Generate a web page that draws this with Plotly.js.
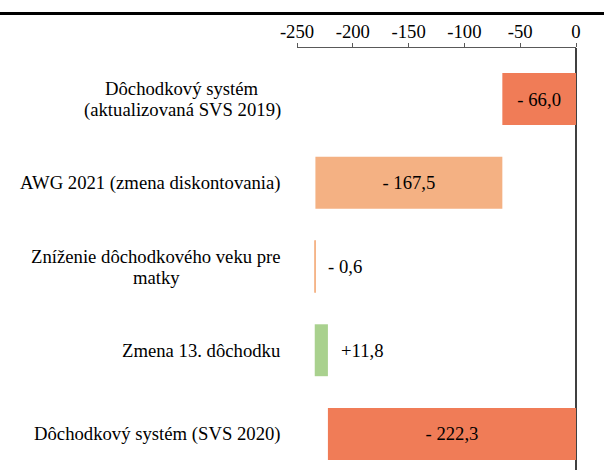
<!DOCTYPE html>
<html>
<head>
<meta charset="utf-8">
<script src="https://cdn.plot.ly/plotly-3.0.1.min.js"></script>
<style>html,body{margin:0;padding:0;background:#fff;}#chart{width:604px;height:470px;}</style>
</head>
<body>
<div id="chart"></div>
<script>
var categories = [
  "Dôchodkový systém<br>(aktualizovaná SVS 2019)",
  "AWG 2021 (zmena diskontovania)",
  "Zníženie dôchodkového veku pre<br>matky",
  "Zmena 13. dôchodku",
  "Dôchodkový systém (SVS 2020)"
];
var values = [-66.0, -167.5, -0.6, 11.8, -222.3];
var measures = ["absolute", "relative", "relative", "relative", "total"];
var valueLabels = ["- 66,0", "- 167,5", "- 0,6", "+11,8", "- 222,3"];
var labelInside = [true, true, false, false, true];
var barColors = ["#F07C57", "#F4B183", "#F4B183", "#A9D18E", "#F07C57"];
var tickVals = [-250, -200, -150, -100, -50, 0];
var tickText = ["-250", "-200", "-150", "-100", "-50", "0"];

// waterfall bases computed from the data
var bases = [], lengths = [], running = 0;
for (var i = 0; i < values.length; i++) {
  if (measures[i] === "absolute" || measures[i] === "total") {
    bases.push(0);
    lengths.push(values[i]);
    running = values[i];
  } else {
    bases.push(running);
    lengths.push(values[i]);
    running += values[i];
  }
}

var font = "Liberation Serif";
var fsize = 18.7;
var lineGap = 21;

var canvas = document.createElement("canvas");
var ctx = canvas.getContext("2d");
ctx.font = fsize + "px 'Liberation Serif'";

var trace = {
  type: "bar",
  orientation: "h",
  y: categories,
  x: lengths,
  base: bases,
  width: 0.62,
  marker: {
    color: barColors,
    line: {width: lengths.map(function (v) { return Math.abs(v) < 2 ? 1 : 0; }), color: barColors}
  },
  text: valueLabels.map(function (t, i) { return labelInside[i] ? t : ""; }),
  textposition: "inside",
  insidetextanchor: "middle",
  textangle: 0,
  insidetextfont: {family: font, size: fsize, color: "#000"},
  constraintext: "none",
  hoverinfo: "none",
  showlegend: false
};

var annotations = [];
categories.forEach(function (c, i) {
  var lines = c.split("<br>");
  var widths = lines.map(function (l) { return ctx.measureText(l).width; });
  var blockW = Math.max.apply(null, widths);
  lines.forEach(function (l, k) {
    annotations.push({
      xref: "paper", yref: "y", x: 0, y: c,
      xanchor: "center", yanchor: "middle",
      xshift: -16 - blockW / 2,
      yshift: -(k - (lines.length - 1) / 2) * lineGap,
      showarrow: false,
      text: l, font: {family: font, size: fsize, color: "#000"}
    });
  });
  if (!labelInside[i]) {
    annotations.push({
      xref: "x", yref: "y", x: Math.max(bases[i], bases[i] + lengths[i]), y: c,
      xanchor: "left", yanchor: "middle", xshift: 11,
      showarrow: false, text: valueLabels[i],
      font: {family: font, size: fsize, color: "#000"}
    });
  }
});

var layout = {
  width: 604, height: 470,
  margin: {l: 297, r: 28, t: 48, b: 0, pad: 0},
  paper_bgcolor: "#fff", plot_bgcolor: "#fff",
  font: {family: font, size: fsize, color: "#000"},
  xaxis: {
    side: "top", range: [-250, 0],
    tickvals: tickVals, ticktext: tickText,
    showline: true, linecolor: "#595959", linewidth: 1,
    ticks: "outside", ticklen: 4, tickcolor: "#595959", tickwidth: 1,
    ticklabelstandoff: -2,
    showgrid: false,
    zeroline: true, zerolinecolor: "#404040", zerolinewidth: 2,
    tickfont: {family: font, size: fsize, color: "#000"},
    fixedrange: true
  },
  yaxis: {
    type: "category", categoryarray: categories, categoryorder: "array",
    range: [4.43, -0.609],
    showticklabels: false, showgrid: false, zeroline: false, showline: false,
    ticks: "", fixedrange: true
  },
  shapes: [{
    type: "line", xref: "paper", yref: "paper",
    x0: -1.2, x1: 1.2, y0: 1.082, y1: 1.082,
    line: {color: "#000", width: 3}
  }],
  annotations: annotations,
  bargap: 0
};

Plotly.newPlot("chart", [trace], layout, {displayModeBar: false, staticPlot: true});
</script>
</body>
</html>
